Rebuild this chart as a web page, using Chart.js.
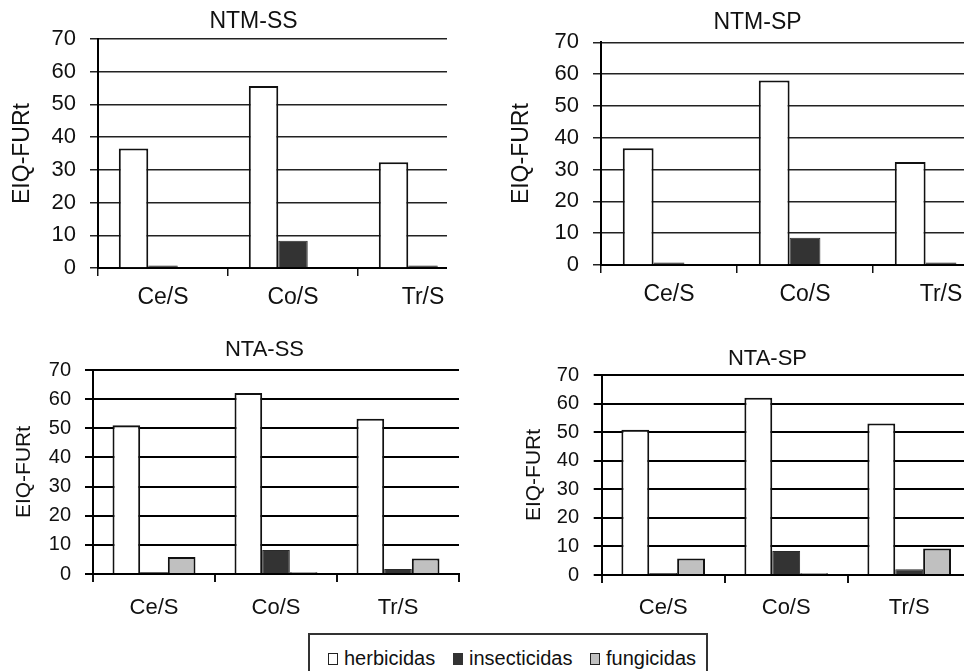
<!DOCTYPE html>
<html>
<head>
<meta charset="utf-8">
<script src="https://cdn.jsdelivr.net/npm/chart.js@4.4.1/dist/chart.umd.min.js"></script>
<style>
  html, body { margin:0; padding:0; background:#fff; width:964px; height:671px; overflow:hidden; position:relative; }
  .wrap { position:absolute; overflow:hidden; }
  .wrap canvas { position:absolute; left:0; top:0; }
  #legend { position:absolute; left:308px; top:633px; width:396px; height:50px; border:2px solid #333;
            font-family:"Liberation Sans", Arial, sans-serif; font-size:20px; color:#111; }
  #legend .item { position:absolute; top:12px; display:flex; align-items:center; white-space:nowrap; }
  #legend .mk { display:inline-block; width:8px; height:10px; margin-right:6px; border:1.5px solid #222; }
</style>
</head>
<body>
<div class="wrap" style="left:0px;top:0px;width:447px;height:330px;"><canvas id="c1" width="498" height="318"></canvas></div>
<div class="wrap" style="left:500px;top:0px;width:464px;height:330px;"><canvas id="c2" width="515" height="315"></canvas></div>
<div class="wrap" style="left:0px;top:320px;width:480px;height:310px;"><canvas id="c3" width="469" height="304"></canvas></div>
<div class="wrap" style="left:500px;top:320px;width:464px;height:310px;"><canvas id="c4" width="477" height="305"></canvas></div>
<div id="legend"></div>
<script>
// ---- data ----
const categories = ['Ce/S', 'Co/S', 'Tr/S'];
const seriesNames = ['herbicidas', 'insecticidas', 'fungicidas'];
const yTicks = [0, 10, 20, 30, 40, 50, 60, 70];
const chartTitles = ['NTM-SS', 'NTM-SP', 'NTA-SS', 'NTA-SP'];
const yAxisTitle = 'EIQ-FURt';

const ntmSS_herbicidas   = [36.5, 55.6, 32.3];
const ntmSS_insecticidas = [0.8, 8.3, 0.8];
const ntmSS_fungicidas   = [0, 0, 0];

const ntmSP_herbicidas   = [36.7, 58.0, 32.4];
const ntmSP_insecticidas = [0.8, 8.6, 0.8];
const ntmSP_fungicidas   = [0, 0, 0];

const ntaSS_herbicidas   = [51.0, 62.1, 53.3];
const ntaSS_insecticidas = [0.7, 8.2, 1.7];
const ntaSS_fungicidas   = [5.8, 0.6, 5.3];

const ntaSP_herbicidas   = [50.8, 62.0, 53.0];
const ntaSP_insecticidas = [0.7, 8.4, 2.0];
const ntaSP_fungicidas   = [5.8, 0.6, 9.3];

// ---- styles ----
const FONT = '"Liberation Sans", Arial, sans-serif';
const fills = ['#ffffff', '#333333', '#c0c0c0'];
const borders = ['#111111', '#2a2a2a', '#111111'];
const borderWidths = [2, 1, 2];

// moves the chart title horizontally to a given centre
const titleShift = {
  id: 'titleShift',
  afterLayout(chart, args, opts) {
    const tb = chart.titleBlock;
    if (tb && opts && opts.center != null) {
      const w = tb.right - tb.left;
      tb.left = opts.center - w / 2;
      tb.right = tb.left + w;
    }
  }
};

function makeChart(id, title, data, g) {
  const datasets = data.map((vals, i) => ({
    label: seriesNames[i],
    data: vals,
    backgroundColor: fills[i],
    borderColor: borders[i],
    borderWidth: borderWidths[i],
    categoryPercentage: 0.68,
    barPercentage: 1.0
  }));
  return new Chart(document.getElementById(id), {
    type: 'bar',
    data: { labels: categories, datasets },
    plugins: [titleShift],
    options: {
      responsive: false,
      animation: false,
      layout: { padding: { left: 0, right: g.padR, top: 0, bottom: 0 } },
      plugins: {
        legend: { display: false },
        tooltip: { enabled: false },
        titleShift: { center: g.titleX },
        title: {
          display: true, text: title, color: '#111',
          font: { family: FONT, size: g.titleSize, weight: 'normal', lineHeight: 1.2 },
          padding: { top: g.tpt, bottom: g.tpb }
        }
      },
      scales: {
        x: {
          afterFit: (s) => { s.height = 50; },
          grid: { display: true, offset: true, drawOnChartArea: false, drawTicks: true,
                  tickLength: 8, color: '#111', lineWidth: g.gridW },
          border: { display: true, color: '#000', width: 2 },
          ticks: { color: '#111', padding: g.xPad, font: { family: FONT, size: g.xSize, lineHeight: 1.2 } }
        },
        y: {
          min: 0, max: 70,
          afterFit: (s) => { s.width = g.yW; },
          afterBuildTicks: (s) => { s.ticks = yTicks.map(v => ({ value: v })); },
          grid: { color: g.gridC, lineWidth: g.gridW, drawTicks: true, tickLength: 8 },
          border: { display: true, color: '#000', width: 2 },
          ticks: { color: '#111', padding: g.yPad, font: { family: FONT, size: g.tickSize } },
          title: {
            display: true, text: yAxisTitle, color: '#111',
            font: { family: FONT, size: g.yTitleSize, lineHeight: 1.2 },
            padding: { top: g.ytp, bottom: 0 }
          }
        }
      }
    }
  });
}

makeChart('c1', chartTitles[0], [ntmSS_herbicidas, ntmSS_insecticidas, ntmSS_fungicidas],
  { padR: 10, yW: 98, ytp: 9.2, titleX: 253.5, titleSize: 23, tpt: 7.9, tpb: 3.5,
    xSize: 23, xPad: 8, tickSize: 22, yPad: 14, yTitleSize: 23, gridC: '#222', gridW: 1.5 });
makeChart('c2', chartTitles[1], [ntmSP_herbicidas, ntmSP_insecticidas, ntmSP_fungicidas],
  { padR: 6, yW: 101, ytp: 8.2, titleX: 257.5, titleSize: 23, tpt: 9, tpb: 5.7,
    xSize: 23, xPad: 7.4, tickSize: 22, yPad: 14, yTitleSize: 23, gridC: '#222', gridW: 1.5 });
makeChart('c3', chartTitles[2], [ntaSS_herbicidas, ntaSS_insecticidas, ntaSS_fungicidas],
  { padR: 10, yW: 93, ytp: 11.4, titleX: 264.5, titleSize: 22, tpt: 16.8, tpb: 6.8,
    xSize: 22, xPad: 12.3, tickSize: 20, yPad: 14, yTitleSize: 21, gridC: '#000', gridW: 2 });
makeChart('c4', chartTitles[3], [ntaSP_herbicidas, ntaSP_insecticidas, ntaSP_fungicidas],
  { padR: 6.3, yW: 101.7, ytp: 21.4, titleX: 267.5, titleSize: 22, tpt: 25.8, tpb: 2.8,
    xSize: 22, xPad: 11.3, tickSize: 20, yPad: 14.7, yTitleSize: 21, gridC: '#000', gridW: 2 });

// ---- legend ----
const legendX = [18, 143, 280];
const legend = document.getElementById('legend');
seriesNames.forEach((name, i) => {
  const it = document.createElement('div');
  it.className = 'item';
  it.style.left = legendX[i] + 'px';
  const mk = document.createElement('span');
  mk.className = 'mk';
  mk.style.background = fills[i];
  mk.style.borderColor = i === 1 ? '#333' : '#222';
  const tx = document.createElement('span');
  tx.textContent = name;
  it.appendChild(mk); it.appendChild(tx);
  legend.appendChild(it);
});
</script>
</body>
</html>
